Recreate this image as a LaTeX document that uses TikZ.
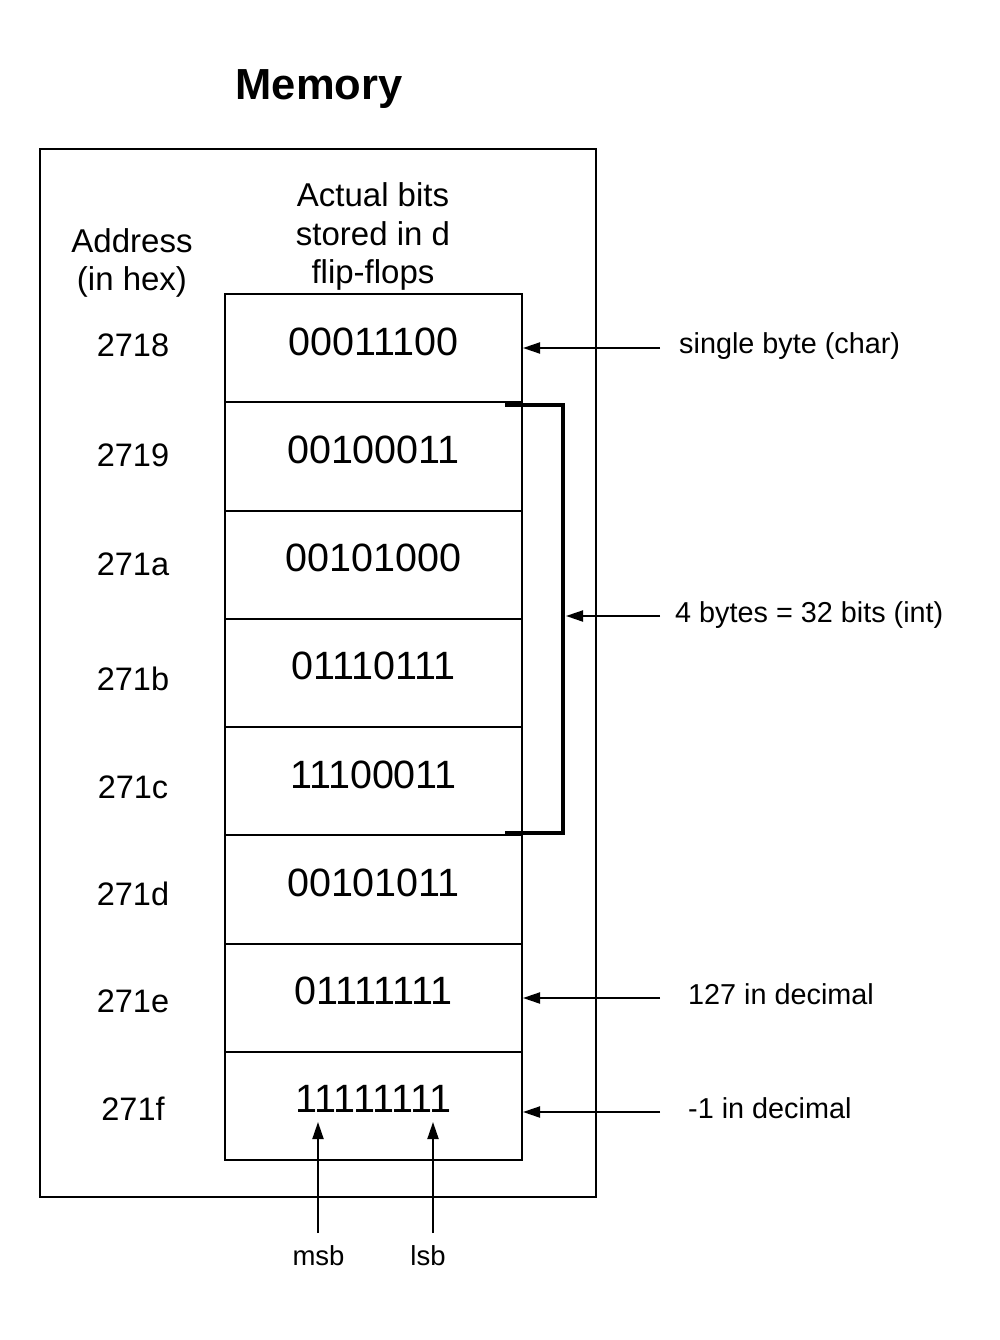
\documentclass[tikz,border=0pt]{standalone}
\usepackage{fontspec}
\setmainfont{Liberation Sans}
\usetikzlibrary{arrows.meta}
\begin{document}
\begin{tikzpicture}[x=1pt,y=-1pt,
  thin/.style={line width=2pt},
  cellbox/.style={draw,line width=2pt,minimum width=297pt,minimum height=108.25pt,inner sep=0pt},
  bitstext/.style={font=\fontsize{39.5}{44}\selectfont,inner sep=0pt,anchor=base},
  addrtext/.style={font=\fontsize{32.5}{38}\selectfont,inner sep=0pt,anchor=base},
  hdrtext/.style={font=\fontsize{33}{38}\selectfont,inner sep=0pt,anchor=base},
  notetext/.style={font=\fontsize{28.8}{32}\selectfont,inner sep=0pt,anchor=base west},
  bittag/.style={font=\fontsize{27.5}{32}\selectfont,inner sep=0pt,anchor=base},
  arr/.style={line width=2pt,-{Triangle[length=17pt,width=11pt]}},
  bracketline/.style={line width=4pt}]
\fill[white] (0,0) rectangle (1000,1340);
\path[use as bounding box] (0,0) rectangle (1000,1340);

% title
\node[font=\bfseries\fontsize{43.5}{48}\selectfont,inner sep=0pt,anchor=base] (title) at (319,100) {Memory};

% outer memory box
\node[draw,thin,minimum width=556pt,minimum height=1048pt,inner sep=0pt] (mem) at (318,673) {};

% headers
\node[hdrtext] (addrh1) at (132,253) {Address};
\node[hdrtext] (addrh2) at (132,290) {(in hex)};
\node[hdrtext] (bitsh1) at (373,207) {Actual bits};
\node[hdrtext] (bitsh2) at (373,245) {stored in d};
\node[hdrtext] (bitsh3) at (373,283) {flip-flops};

% cells
\foreach \i/\ad/\bt/\ay in {0/2718/00011100/356,1/2719/00100011/466,2/271a/00101000/575,3/271b/01110111/690,4/271c/11100011/798,5/271d/00101011/905,6/271e/01111111/1012,7/271f/11111111/1120}{
  \pgfmathsetmacro\cy{348.125+108.25*\i}
  \node[cellbox] (cell\i) at (373.5,\cy) {};
  \node[bitstext] (bits\i) at (373.5,\cy+7) {\bt};
  \node[addrtext] (addr\i) at (133,\ay) {\ad};
}

% bracket for int
\coordinate (bA) at (505,404.5);
\coordinate (bB) at (505,833);
\draw[bracketline] (bA) -- ++(57.5,0) |- (bB);
\coordinate (bmid) at (566,616);

% side arrows
\coordinate (s1) at (660,348);
\coordinate (s2) at (660,616);
\coordinate (s3) at (660,998);
\coordinate (s4) at (660,1112);
\draw[arr] (s1) -- (cell0.east |- s1);
\draw[arr] (s2) -- (bmid);
\draw[arr] (s3) -- (cell6.east |- s3);
\draw[arr] (s4) -- (cell7.east |- s4);

\node[notetext] (n1) at (679,353) {single byte (char)};
\node[notetext] (n2) at (675,622) {4 bytes = 32 bits (int)};
\node[notetext] (n3) at (688,1004) {127 in decimal};
\node[notetext] (n4) at (688,1118) {-1 in decimal};

% msb / lsb
\coordinate (m0) at (318,1233);
\coordinate (m1) at (318,1122);
\coordinate (l0) at (433,1233);
\coordinate (l1) at (433,1122);
\draw[arr] (m0) -- (m1);
\draw[arr] (l0) -- (l1);
\node[bittag] (msb) at (318.5,1265) {msb};
\node[bittag] (lsb) at (428,1265) {lsb};
\end{tikzpicture}
\end{document}
